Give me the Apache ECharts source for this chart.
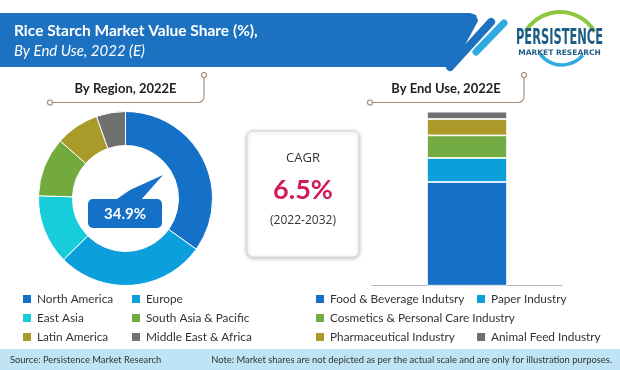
<!DOCTYPE html>
<html>
<head>
<meta charset="utf-8">
<script src="https://cdn.jsdelivr.net/npm/echarts@6/dist/echarts.min.js"></script>
<style>
html,body{margin:0;padding:0;background:#fff;}
#chart{width:620px;height:370px;}
</style>
</head>
<body>
<div id="chart"></div>
<script>
// ---- Data ----
const regionNames = ['North America', 'Europe', 'East Asia', 'South Asia & Pacific', 'Latin America', 'Middle East & Africa'];
const regionShares = [34.9, 27.7, 12.9, 11.0, 8.1, 5.4];
const regionColors = ['#1570c8', '#0b9fdc', '#17cdd9', '#72aa3e', '#a99a2a', '#707070'];

const endUseNames = ['Food & Beverage Indutsry', 'Paper Industry', 'Cosmetics & Personal Care Industry', 'Pharmaceutical Industry', 'Animal Feed Industry'];
const endUseShares = [59.6, 13.8, 13.0, 9.4, 4.2];
const endUseColors = ['#1570c8', '#0b9fdc', '#72ac42', '#ab9a2a', '#707070'];

const titleText = 'Rice Starch Market Value Share (%),';
const subtitleText = 'By End Use, 2022 (E)';
const regionHeading = 'By Region, 2022E';
const endUseHeading = 'By End Use, 2022E';
const cagrLabel = 'CAGR';
const cagrValue = '6.5%';
const cagrPeriod = '(2022-2032)';
const sourceText = 'Source: Persistence Market Research';
const noteText = 'Note: Market shares are not depicted as per the actual scale and are only for illustration purposes.';

const chart = echarts.init(document.getElementById('chart'), null, {renderer: 'canvas'});
const FONT = 'Lato, "Open Sans", sans-serif';
const brown = '#a28e7e';

// measure logo text so it fits the logo width
const logoFont = 'bold 22px "DejaVu Sans Condensed", "Liberation Sans Narrow", sans-serif';
const mctx = document.createElement('canvas').getContext('2d');
mctx.font = logoFont;
const logoScale = 87 / mctx.measureText('PERSISTENCE').width;

const legendBase = {
  icon: 'rect', itemWidth: 10, itemHeight: 10, itemGap: 5, orient: 'vertical',
  selectedMode: false, padding: 0,
  textStyle: {fontFamily: FONT, fontSize: 11.8, lineHeight: 14, color: '#333'}
};

const series = [{
  type: 'pie',
  center: [125.5, 198.5],
  radius: [53, 87],
  startAngle: 90,
  clockwise: true,
  silent: true,
  label: {show: false},
  labelLine: {show: false},
  itemStyle: {borderColor: '#ffffff', borderWidth: 1},
  data: regionNames.map((n, i) => ({name: n, value: regionShares[i], itemStyle: {color: regionColors[i]}}))
}];
endUseNames.forEach((n, i) => {
  series.push({
    type: 'bar', name: n, stack: 'eu', barWidth: 80,
    silent: true,
    itemStyle: {color: endUseColors[i], borderColor: '#ffffff', borderWidth: 0.8},
    data: [endUseShares[i]]
  });
});

function connector(x0, x1, y, yTop) {
  return [
    {type: 'polyline', shape: {points: [[x0 + 2.5, y], [x1 - 6, y]]}, style: {stroke: brown, lineWidth: 1.2, fill: null}},
    {type: 'arc', shape: {cx: x1 - 6, cy: y - 6, r: 6, startAngle: 0, endAngle: Math.PI / 2}, style: {stroke: brown, lineWidth: 1.2, fill: null}},
    {type: 'polyline', shape: {points: [[x1, y - 6], [x1, yTop + 2.5]]}, style: {stroke: brown, lineWidth: 1.2, fill: null}},
    {type: 'circle', shape: {cx: x0, cy: y, r: 2.5}, style: {stroke: brown, lineWidth: 1.2, fill: '#fff'}},
    {type: 'circle', shape: {cx: x1, cy: yTop, r: 2.5}, style: {stroke: brown, lineWidth: 1.2, fill: '#fff'}}
  ];
}

const graphics = [
  // header banner
  {type: 'polygon', shape: {points: [[0, 13], [470, 13], [476, 15], [478, 21], [453, 67], [0, 67]]}, style: {fill: '#1c72c0'}},
  {type: 'line', shape: {x1: 491, y1: 22, x2: 450, y2: 67}, style: {stroke: '#1c72c0', lineWidth: 8, lineCap: 'round'}},
  {type: 'line', shape: {x1: 504, y1: 23, x2: 476, y2: 52}, style: {stroke: '#2eaae1', lineWidth: 7, lineCap: 'round'}},
  {type: 'text', style: {text: titleText, x: 14, y: 31, fill: '#fff', font: 'bold 15.5px ' + FONT, textVerticalAlign: 'middle'}},
  {type: 'text', style: {text: subtitleText, x: 14, y: 51, fill: '#fff', font: 'italic 15px ' + FONT, textVerticalAlign: 'middle'}},
  // logo
  {type: 'arc', shape: {cx: 560, cy: 52, r: 40, startAngle: Math.PI * 1.17, endAngle: Math.PI * 1.83}, style: {stroke: '#8dc63f', lineWidth: 4, fill: null}},
  {type: 'arc', shape: {cx: 562, cy: 38, r: 27, startAngle: Math.PI * 0.22, endAngle: Math.PI * 0.8}, style: {stroke: '#2eaae1', lineWidth: 3.5, fill: null}},
  {type: 'text', x: 516, y: 38, scaleX: logoScale, style: {text: 'PERSISTENCE', x: 0, y: 0, fill: '#1d5d86', font: logoFont, textVerticalAlign: 'middle'}},
  {type: 'text', style: {text: 'MARKET RESEARCH', x: 559.5, y: 53, fill: '#1d5d86', font: 'bold 7.5px "DejaVu Sans", sans-serif', textAlign: 'center', textVerticalAlign: 'middle'}},
  // headings
  {type: 'text', style: {text: regionHeading, x: 125.5, y: 89, fill: '#222', font: 'bold 13px ' + FONT, textAlign: 'center', textVerticalAlign: 'middle'}},
  {type: 'text', style: {text: endUseHeading, x: 446, y: 89, fill: '#222', font: 'bold 13px ' + FONT, textAlign: 'center', textVerticalAlign: 'middle'}},
  ...connector(50, 204, 102.5, 75),
  ...connector(370, 524, 102.5, 75),
  // callout for North America share
  {type: 'polygon', shape: {points: [[114, 201], [130, 190], [163, 175], [140, 201]]}, style: {fill: '#1570c8'}},
  {type: 'rect', shape: {x: 88, y: 199, width: 74, height: 29, r: 5}, style: {fill: '#1570c8'}},
  {type: 'text', style: {text: regionShares[0].toFixed(1) + '%', x: 125, y: 214, fill: '#fff', font: 'bold 15px ' + FONT, textAlign: 'center', textVerticalAlign: 'middle'}},
  // CAGR box
  {type: 'rect', shape: {x: 247, y: 131, width: 112, height: 126, r: 6}, style: {fill: '#fff', stroke: '#d6d6d6', lineWidth: 1, shadowBlur: 4, shadowColor: 'rgba(0,0,0,0.25)', shadowOffsetY: 1}},
  {type: 'text', style: {text: cagrLabel, x: 303, y: 158, fill: '#333', font: '13px "Open Sans", sans-serif', textAlign: 'center', textVerticalAlign: 'middle'}},
  {type: 'text', style: {text: cagrValue, x: 303, y: 190, fill: '#d3195d', font: 'bold 27px ' + FONT, textAlign: 'center', textVerticalAlign: 'middle'}},
  {type: 'text', style: {text: cagrPeriod, x: 303, y: 221, fill: '#333', font: '12px "Open Sans", sans-serif', textAlign: 'center', textVerticalAlign: 'middle'}},
  // footer
  {type: 'rect', shape: {x: 0, y: 349, width: 620, height: 21}, style: {fill: '#bfe4f5'}},
  {type: 'text', style: {text: sourceText, x: 10, y: 360, fill: '#333', font: '9.4px ' + FONT, textVerticalAlign: 'middle'}},
  {type: 'text', style: {text: noteText, x: 612, y: 360, fill: '#333', font: '9.4px ' + FONT, textAlign: 'right', textVerticalAlign: 'middle'}}
];

chart.setOption({
  animation: false,
  backgroundColor: '#ffffff',
  grid: {left: 372, width: 190, top: 111.7, height: 174},
  xAxis: {type: 'category', data: ['2022E'], axisLabel: {show: false}, axisTick: {show: false},
    axisLine: {lineStyle: {color: '#b5b5b5', width: 1}}},
  yAxis: {type: 'value', min: 0, max: 100, show: false, splitLine: {show: false}},
  legend: [
    Object.assign({}, legendBase, {data: [regionNames[0], regionNames[2], regionNames[4]], left: 21, top: 292}),
    Object.assign({}, legendBase, {data: [regionNames[1], regionNames[3], regionNames[5]], left: 130, top: 292}),
    Object.assign({}, legendBase, {data: [endUseNames[0], endUseNames[2], endUseNames[3]], left: 314, top: 292}),
    Object.assign({}, legendBase, {data: [endUseNames[1]], left: 475, top: 292}),
    Object.assign({}, legendBase, {data: [endUseNames[4]], left: 475, top: 330})
  ],
  series: series,
  graphic: graphics
});
</script>
</body>
</html>
